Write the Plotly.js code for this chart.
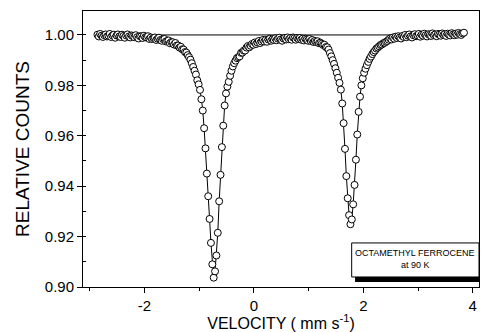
<!DOCTYPE html>
<html>
<head>
<meta charset="utf-8">
<script src="https://cdn.plot.ly/plotly-3.0.1.min.js"></script>
<style>
  html, body { margin: 0; padding: 0; background: #fff; }
  #chart { width: 499px; height: 332px; }
</style>
</head>
<body>
<div id="chart"></div>
<script>
// ---- data ----
const velocityStart = -2.86;   // mm/s, first channel
const velocityStep = 0.025;    // mm/s per channel
const relativeCounts = [
  1.0001, .9994, 1.0004, .9997, .9992, .9999, 1.0002, .9994, .9997, 1.0004,
  .9992, .9998, 1.0001, .9989, .9998, 1.0002, .9994, .9992, 1.0001, .9996,
  .9989, .9998, 1.0002, .9994, .9990, .9998, .9995, .9991, .9999, .9991,
  .9986, .9995, .9994, .9988, .9997, .9991, .9990, .9995, .9984, .9990,
  .9984, .9988, .9990, .9980, .9985, .9989, .9980, .9977, .9983, .9984,
  .9974, .9976, .9978, .9967, .9972, .9971, .9962, .9968, .9958, .9958,
  .9950, .9953, .9943, .9942, .9932, .9930, .9920, .9912, .9902, .9888,
  .9873, .9858, .9843, .9820, .9804, .9782, .9745, .9700, .9630, .9550,
  .9450, .9360, .9270, .9175, .9090, .9037, .9062, .9125, .9215, .9340,
  .9445, .9555, .9640, .9720, .9768, .9795, .9814, .9838, .9858, .9875,
  .9888, .9898, .9908, .9912, .9915, .9929, .9930, .9938, .9938, .9950,
  .9956, .9951, .9957, .9964, .9961, .9970, .9964, .9970, .9976, .9968,
  .9974, .9980, .9974, .9980, .9973, .9982, .9985, .9977, .9983, .9980,
  .9987, .9979, .9985, .9989, .9982, .9977, .9986, .9988, .9982, .9990,
  .9983, .9988, .9981, .9990, .9987, .9981, .9988, .9984, .9988, .9981,
  .9985, .9978, .9985, .9981, .9977, .9984, .9976, .9980, .9972, .9976,
  .9972, .9975, .9967, .9969, .9965, .9960, .9961, .9952, .9951, .9942,
  .9928, .9915, .9900, .9885, .9868, .9850, .9830, .9810, .9783, .9728,
  .9650, .9548, .9440, .9352, .9285, .9249, .9268, .9328, .9405, .9505,
  .9605, .9695, .9755, .9800, .9828, .9850, .9866, .9880, .9893, .9905,
  .9914, .9924, .9932, .9938, .9946, .9950, .9955, .9960, .9962, .9967,
  .9969, .9973, .9976, .9981, .9986, .9982, .9990, .9985, .9993, .9988,
  .9995, .9990, .9986, .9996, .9992, 1.0000, .9991, .9997, 1.0002, .9994,
  .9990, .9999, 1.0003, .9995, .9998, 1.0004, .9993, 1.0001, .9997, 1.0005,
  .9999, .9994, 1.0003, 1.0000, .9996, 1.0006, .9999, 1.0002, .9995, 1.0004,
  1.0001, .9997, 1.0006, 1.0000, 1.0003, .9996, 1.0005, 1.0001, .9998, 1.0007,
  1.0002, .9999, 1.0005, 1.0001, 1.0008, 1.0003, 1.0000, 1.0006, 1.0009
];
const baselineVelocity = [-2.86, 3.84];
const baselineCounts = [1.0, 1.0];
const xTickValues = [-2, 0, 2, 4];
const xTickLabels = ['-2', '0', '2', '4'];
const yTickValues = [0.90, 0.92, 0.94, 0.96, 0.98, 1.00];
const yTickLabels = ['0.90', '0.92', '0.94', '0.96', '0.98', '1.00'];
const sampleLabel = ['OCTAMETHYL FERROCENE', 'at 90 K'];

// ---- chart ----
const FONT = 'Arial, "Liberation Sans", sans-serif';

const traces = [
  {
    type: 'scatter', mode: 'lines',
    x: baselineVelocity, y: baselineCounts,
    line: { color: '#000', width: 1 },
    hoverinfo: 'skip', showlegend: false
  },
  {
    type: 'scatter', mode: 'lines+markers',
    x0: velocityStart, dx: velocityStep, y: relativeCounts,
    line: { color: '#000', width: 1 },
    marker: { symbol: 'circle', size: 7, color: '#fff', line: { color: '#000', width: 1 } },
    showlegend: false
  }
];

const layout = {
  width: 499, height: 332,
  margin: { l: 83, r: 20, t: 11, b: 45 },
  paper_bgcolor: '#fff', plot_bgcolor: '#fff',
  font: { family: FONT, color: '#000' },
  showlegend: false,
  xaxis: {
    range: [-3.124, 4.115],
    tickvals: xTickValues, ticktext: xTickLabels,
    ticks: 'outside', ticklen: 5, tickwidth: 1, tickcolor: '#000',
    minor: { dtick: 1, tick0: 0, ticks: 'outside', ticklen: 3, tickcolor: '#000', showgrid: false },
    showline: true, linecolor: '#000', linewidth: 1, mirror: true,
    showgrid: false, zeroline: false,
    tickfont: { family: FONT, size: 15, color: '#000' },
    title: { text: 'VELOCITY ( mm s<sup>-1</sup>)', font: { family: FONT, size: 16, color: '#000' }, standoff: 4 }
  },
  yaxis: {
    range: [0.9, 1.0095],
    tickvals: yTickValues, ticktext: yTickLabels,
    ticks: 'outside', ticklen: 5, tickwidth: 1, tickcolor: '#000',
    minor: { dtick: 0.01, tick0: 0.9, ticks: 'inside', ticklen: 3, tickcolor: '#000', showgrid: false },
    showline: true, linecolor: '#000', linewidth: 1, mirror: true,
    showgrid: false, zeroline: false,
    tickfont: { family: FONT, size: 15, color: '#000' },
    title: { text: 'RELATIVE COUNTS', font: { family: FONT, size: 19, color: '#000' }, standoff: 10 }
  },
  shapes: [
    { type: 'rect', xref: 'paper', yref: 'paper', x0: 0.687, x1: 1.0, y0: 0.018, y1: 0.15,
      fillcolor: '#000', line: { width: 0 }, layer: 'above' },
    { type: 'rect', xref: 'paper', yref: 'paper', x0: 0.6785, x1: 1.0, y0: 0.0363, y1: 0.1596,
      fillcolor: '#fff', line: { color: '#000', width: 1 }, layer: 'above' }
  ],
  annotations: [
    { xref: 'paper', yref: 'paper', x: 0.839, y: 0.1233, text: sampleLabel[0], showarrow: false,
      font: { family: FONT, size: 9, color: '#000' }, xanchor: 'center', yanchor: 'middle' },
    { xref: 'paper', yref: 'paper', x: 0.839, y: 0.0787, text: sampleLabel[1], showarrow: false,
      font: { family: FONT, size: 9, color: '#000' }, xanchor: 'center', yanchor: 'middle' }
  ]
};

Plotly.newPlot('chart', traces, layout, { staticPlot: true, displayModeBar: false });
</script>
</body>
</html>
